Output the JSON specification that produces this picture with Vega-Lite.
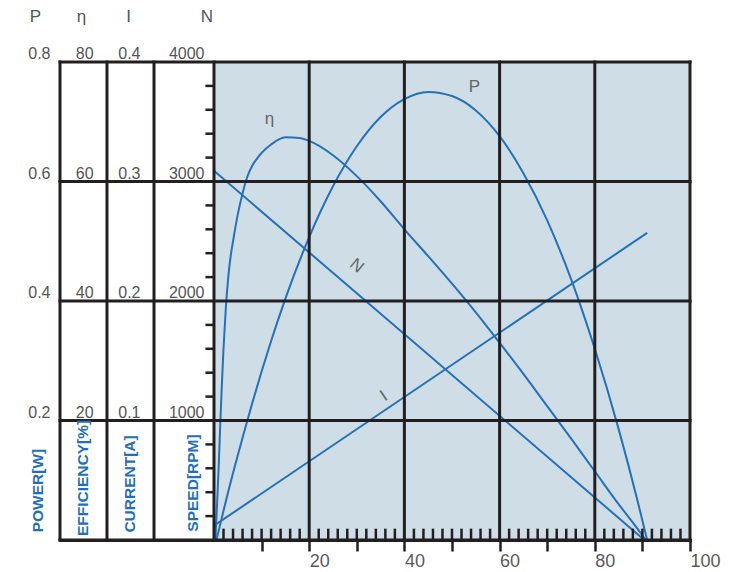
{
  "$schema": "https://vega.github.io/schema/vega-lite/v6.json",
  "width": 630,
  "height": 478,
  "autosize": {"type": "none"},
  "padding": {"left": 60, "top": 62, "right": 45, "bottom": 32},
  "background": "white",
  "config": {"view": {"stroke": null}},
  "datasets": {
    "power": [
      {"torque": 0.5, "P": 0}, {"torque": 1, "P": 0.016}, {"torque": 2, "P": 0.049}, {"torque": 3, "P": 0.081},
      {"torque": 4, "P": 0.112}, {"torque": 5, "P": 0.142}, {"torque": 6, "P": 0.171}, {"torque": 8, "P": 0.228},
      {"torque": 10, "P": 0.282}, {"torque": 12, "P": 0.333}, {"torque": 15, "P": 0.404}, {"torque": 20, "P": 0.507},
      {"torque": 25, "P": 0.592}, {"torque": 30, "P": 0.659}, {"torque": 35, "P": 0.708}, {"torque": 40, "P": 0.738},
      {"torque": 45, "P": 0.75}, {"torque": 50, "P": 0.743}, {"torque": 55, "P": 0.719}, {"torque": 60, "P": 0.676},
      {"torque": 65, "P": 0.614}, {"torque": 70, "P": 0.535}, {"torque": 75, "P": 0.437}, {"torque": 80, "P": 0.32},
      {"torque": 85, "P": 0.186}, {"torque": 87, "P": 0.127}, {"torque": 89, "P": 0.065}, {"torque": 91, "P": 0}
    ],
    "efficiency": [
      {"torque": 0.3, "eta": 0}, {"torque": 0.7, "eta": 7}, {"torque": 1.0, "eta": 12.5}, {"torque": 1.3, "eta": 19},
      {"torque": 1.6, "eta": 25}, {"torque": 2, "eta": 32}, {"torque": 2.5, "eta": 39}, {"torque": 3, "eta": 44},
      {"torque": 3.5, "eta": 47.5}, {"torque": 4, "eta": 50}, {"torque": 5, "eta": 54.5}, {"torque": 6, "eta": 58},
      {"torque": 7, "eta": 60.8}, {"torque": 8, "eta": 62.6}, {"torque": 9, "eta": 63.8}, {"torque": 10, "eta": 64.8},
      {"torque": 12, "eta": 66.2}, {"torque": 15, "eta": 67.4}, {"torque": 18, "eta": 67.3}, {"torque": 20, "eta": 66.8},
      {"torque": 25, "eta": 64.4}, {"torque": 30, "eta": 60.9}, {"torque": 35, "eta": 56.7}, {"torque": 40, "eta": 52.0},
      {"torque": 45, "eta": 47.5}, {"torque": 50, "eta": 42.9}, {"torque": 55, "eta": 38.1}, {"torque": 60, "eta": 33.0},
      {"torque": 65, "eta": 27.8}, {"torque": 70, "eta": 22.4}, {"torque": 75, "eta": 17.0}, {"torque": 80, "eta": 11.5},
      {"torque": 85, "eta": 6.0}, {"torque": 88, "eta": 2.9}, {"torque": 90.7, "eta": 0}
    ],
    "current": [{"torque": 0, "I": 0.012}, {"torque": 91, "I": 0.257}],
    "speed": [{"torque": 0, "N": 3090}, {"torque": 90.4, "N": 0}],
    "hlines": [{"rpm": 0}, {"rpm": 1000}, {"rpm": 2000}, {"rpm": 3000}, {"rpm": 4000}],
    "vlines": [{"x": -32.35}, {"x": -22.48}, {"x": -12.6}, {"x": 0}, {"x": 20}, {"x": 40}, {"x": 60}, {"x": 80}, {"x": 100}],
    "xminor": [
      {"x": 2}, {"x": 4}, {"x": 6}, {"x": 8}, {"x": 10}, {"x": 12}, {"x": 14}, {"x": 16}, {"x": 18},
      {"x": 22}, {"x": 24}, {"x": 26}, {"x": 28}, {"x": 30}, {"x": 32}, {"x": 34}, {"x": 36}, {"x": 38},
      {"x": 42}, {"x": 44}, {"x": 46}, {"x": 48}, {"x": 50}, {"x": 52}, {"x": 54}, {"x": 56}, {"x": 58},
      {"x": 62}, {"x": 64}, {"x": 66}, {"x": 68}, {"x": 70}, {"x": 72}, {"x": 74}, {"x": 76}, {"x": 78},
      {"x": 82}, {"x": 84}, {"x": 86}, {"x": 88}, {"x": 90}, {"x": 92}, {"x": 94}, {"x": 96}, {"x": 98}
    ],
    "yminor": [
      {"rpm": 200}, {"rpm": 400}, {"rpm": 600}, {"rpm": 800},
      {"rpm": 1200}, {"rpm": 1400}, {"rpm": 1600}, {"rpm": 1800},
      {"rpm": 2200}, {"rpm": 2400}, {"rpm": 2600}, {"rpm": 2800},
      {"rpm": 3200}, {"rpm": 3400}, {"rpm": 3600}, {"rpm": 3800}
    ],
    "ticklabels": [
      {"x": -34.35, "rpm": 4000, "label": "0.8"}, {"x": -34.35, "rpm": 3000, "label": "0.6"},
      {"x": -34.35, "rpm": 2000, "label": "0.4"}, {"x": -34.35, "rpm": 1000, "label": "0.2"},
      {"x": -25.3, "rpm": 4000, "label": "80"}, {"x": -25.3, "rpm": 3000, "label": "60"},
      {"x": -25.3, "rpm": 2000, "label": "40"}, {"x": -25.3, "rpm": 1000, "label": "20"},
      {"x": -15.44, "rpm": 4000, "label": "0.4"}, {"x": -15.44, "rpm": 3000, "label": "0.3"},
      {"x": -15.44, "rpm": 2000, "label": "0.2"}, {"x": -15.44, "rpm": 1000, "label": "0.1"},
      {"x": -2.0, "rpm": 4000, "label": "4000"}, {"x": -2.0, "rpm": 3000, "label": "3000"},
      {"x": -2.0, "rpm": 2000, "label": "2000"}, {"x": -2.0, "rpm": 1000, "label": "1000"}
    ],
    "headers": [
      {"x": -37.5, "rpm": 4335, "label": "P"}, {"x": -27.84, "rpm": 4335, "label": "η"},
      {"x": -17.96, "rpm": 4335, "label": "I"}, {"x": -1.47, "rpm": 4335, "label": "N"}
    ],
    "titles": [
      {"x": -36.97, "rpm": 414, "label": "POWER[W]"}, {"x": -27.42, "rpm": 519, "label": "EFFICIENCY[%]"},
      {"x": -17.65, "rpm": 469, "label": "CURRENT[A]"}, {"x": -4.41, "rpm": 477, "label": "SPEED[RPM]"}
    ],
    "curvelabels": [
      {"x": 54.7, "rpm": 3749, "label": "P"}, {"x": 11.66, "rpm": 3481, "label": "η"}
    ],
    "nlabel": [{"x": 30.0, "rpm": 2293, "label": "N"}],
    "ilabel": [{"x": 35.7, "rpm": 1205, "label": "I"}]
  },
  "layer": [
    {
      "data": {"values": [{"x": 0, "x2": 100, "y": 0, "y2": 4000}]},
      "mark": {"type": "rect", "fill": "#cfdde6"},
      "encoding": {
        "x": {"field": "x", "type": "quantitative", "scale": {"domain": [-32.35, 100], "nice": false, "zero": false},
          "axis": {"values": [10, 20, 30, 40, 50, 60, 70, 80, 90, 100],
            "labelExpr": "datum.value % 20 === 0 ? datum.label : ''",
            "title": null, "grid": false, "zindex": 2,
            "domainColor": "#231f20", "domainWidth": 3, "domainCap": "square",
            "tickColor": "#231f20", "tickWidth": 2.5, "tickSize": 11,
            "labelAlign": "left", "labelBaseline": "top", "labelPadding": 1,
            "labelFont": "Liberation Sans", "labelFontSize": 18, "labelColor": "#5a5a5a",
            "labelFlush": false, "labelOverlap": false, "labelBound": false}},
        "x2": {"field": "x2"},
        "y": {"field": "y", "type": "quantitative", "scale": {"domain": [0, 4000], "nice": false}, "axis": null},
        "y2": {"field": "y2"}
      }
    },
    {
      "data": {"name": "power"},
      "mark": {"type": "line", "interpolate": "monotone", "color": "#2670b8", "strokeWidth": 2},
      "encoding": {
        "x": {"field": "torque", "type": "quantitative", "scale": {"domain": [-32.35, 100], "nice": false, "zero": false}},
        "y": {"field": "P", "type": "quantitative", "scale": {"domain": [0, 0.8], "nice": false}, "axis": null}
      }
    },
    {
      "data": {"name": "efficiency"},
      "mark": {"type": "line", "interpolate": "monotone", "color": "#2670b8", "strokeWidth": 2},
      "encoding": {
        "x": {"field": "torque", "type": "quantitative", "scale": {"domain": [-32.35, 100], "nice": false, "zero": false}},
        "y": {"field": "eta", "type": "quantitative", "scale": {"domain": [0, 80], "nice": false}, "axis": null}
      }
    },
    {
      "data": {"name": "current"},
      "mark": {"type": "line", "color": "#2670b8", "strokeWidth": 2},
      "encoding": {
        "x": {"field": "torque", "type": "quantitative", "scale": {"domain": [-32.35, 100], "nice": false, "zero": false}},
        "y": {"field": "I", "type": "quantitative", "scale": {"domain": [0, 0.4], "nice": false}, "axis": null}
      }
    },
    {
      "data": {"name": "speed"},
      "mark": {"type": "line", "color": "#2670b8", "strokeWidth": 2},
      "encoding": {
        "x": {"field": "torque", "type": "quantitative", "scale": {"domain": [-32.35, 100], "nice": false, "zero": false}},
        "y": {"field": "N", "type": "quantitative", "scale": {"domain": [0, 4000], "nice": false}, "axis": null}
      }
    },
    {
      "data": {"name": "hlines"},
      "mark": {"type": "rule", "color": "#231f20", "strokeWidth": 3, "strokeCap": "square"},
      "encoding": {
        "x": {"datum": -32.35, "type": "quantitative", "scale": {"domain": [-32.35, 100], "nice": false, "zero": false}},
        "x2": {"datum": 100},
        "y": {"field": "rpm", "type": "quantitative", "scale": {"domain": [0, 4000], "nice": false}, "axis": null}
      }
    },
    {
      "data": {"name": "vlines"},
      "mark": {"type": "rule", "color": "#231f20", "strokeWidth": 3, "strokeCap": "square"},
      "encoding": {
        "x": {"field": "x", "type": "quantitative", "scale": {"domain": [-32.35, 100], "nice": false, "zero": false}},
        "y": {"datum": 0, "type": "quantitative", "scale": {"domain": [0, 4000], "nice": false}, "axis": null},
        "y2": {"datum": 4000}
      }
    },
    {
      "data": {"name": "xminor"},
      "mark": {"type": "rule", "color": "#231f20", "strokeWidth": 2.5},
      "encoding": {
        "x": {"field": "x", "type": "quantitative", "scale": {"domain": [-32.35, 100], "nice": false, "zero": false}},
        "y": {"datum": 0, "type": "quantitative", "scale": {"domain": [0, 4000], "nice": false}, "axis": null},
        "y2": {"datum": 95}
      }
    },
    {
      "data": {"name": "yminor"},
      "mark": {"type": "rule", "color": "#231f20", "strokeWidth": 2.5},
      "encoding": {
        "x": {"datum": -1.8, "type": "quantitative", "scale": {"domain": [-32.35, 100], "nice": false, "zero": false}},
        "x2": {"datum": 0},
        "y": {"field": "rpm", "type": "quantitative", "scale": {"domain": [0, 4000], "nice": false}, "axis": null}
      }
    },
    {
      "data": {"name": "ticklabels"},
      "mark": {"type": "text", "align": "right", "baseline": "alphabetic", "dy": -3, "font": "Liberation Sans", "fontSize": 16, "color": "#555555"},
      "encoding": {
        "x": {"field": "x", "type": "quantitative", "scale": {"domain": [-32.35, 100], "nice": false, "zero": false}},
        "y": {"field": "rpm", "type": "quantitative", "scale": {"domain": [0, 4000], "nice": false}, "axis": null},
        "text": {"field": "label"}
      }
    },
    {
      "data": {"name": "headers"},
      "mark": {"type": "text", "align": "center", "baseline": "alphabetic", "font": "Liberation Sans", "fontSize": 17, "color": "#555555"},
      "encoding": {
        "x": {"field": "x", "type": "quantitative", "scale": {"domain": [-32.35, 100], "nice": false, "zero": false}},
        "y": {"field": "rpm", "type": "quantitative", "scale": {"domain": [0, 4000], "nice": false}, "axis": null},
        "text": {"field": "label"}
      }
    },
    {
      "data": {"name": "titles"},
      "mark": {"type": "text", "align": "center", "baseline": "middle", "angle": 270, "font": "Liberation Sans", "fontWeight": "bold", "fontSize": 15.5, "color": "#1f6fba"},
      "encoding": {
        "x": {"field": "x", "type": "quantitative", "scale": {"domain": [-32.35, 100], "nice": false, "zero": false}},
        "y": {"field": "rpm", "type": "quantitative", "scale": {"domain": [0, 4000], "nice": false}, "axis": null},
        "text": {"field": "label"}
      }
    },
    {
      "data": {"name": "curvelabels"},
      "mark": {"type": "text", "align": "center", "baseline": "alphabetic", "font": "Liberation Sans", "fontSize": 17, "color": "#666666"},
      "encoding": {
        "x": {"field": "x", "type": "quantitative", "scale": {"domain": [-32.35, 100], "nice": false, "zero": false}},
        "y": {"field": "rpm", "type": "quantitative", "scale": {"domain": [0, 4000], "nice": false}, "axis": null},
        "text": {"field": "label"}
      }
    },
    {
      "data": {"name": "nlabel"},
      "mark": {"type": "text", "align": "center", "baseline": "middle", "angle": 40, "font": "Liberation Sans", "fontSize": 17, "color": "#666666"},
      "encoding": {
        "x": {"field": "x", "type": "quantitative", "scale": {"domain": [-32.35, 100], "nice": false, "zero": false}},
        "y": {"field": "rpm", "type": "quantitative", "scale": {"domain": [0, 4000], "nice": false}, "axis": null},
        "text": {"field": "label"}
      }
    },
    {
      "data": {"name": "ilabel"},
      "mark": {"type": "text", "align": "center", "baseline": "middle", "angle": -34, "font": "Liberation Sans", "fontSize": 17, "color": "#666666"},
      "encoding": {
        "x": {"field": "x", "type": "quantitative", "scale": {"domain": [-32.35, 100], "nice": false, "zero": false}},
        "y": {"field": "rpm", "type": "quantitative", "scale": {"domain": [0, 4000], "nice": false}, "axis": null},
        "text": {"field": "label"}
      }
    }
  ],
  "resolve": {"scale": {"y": "independent"}}
}
